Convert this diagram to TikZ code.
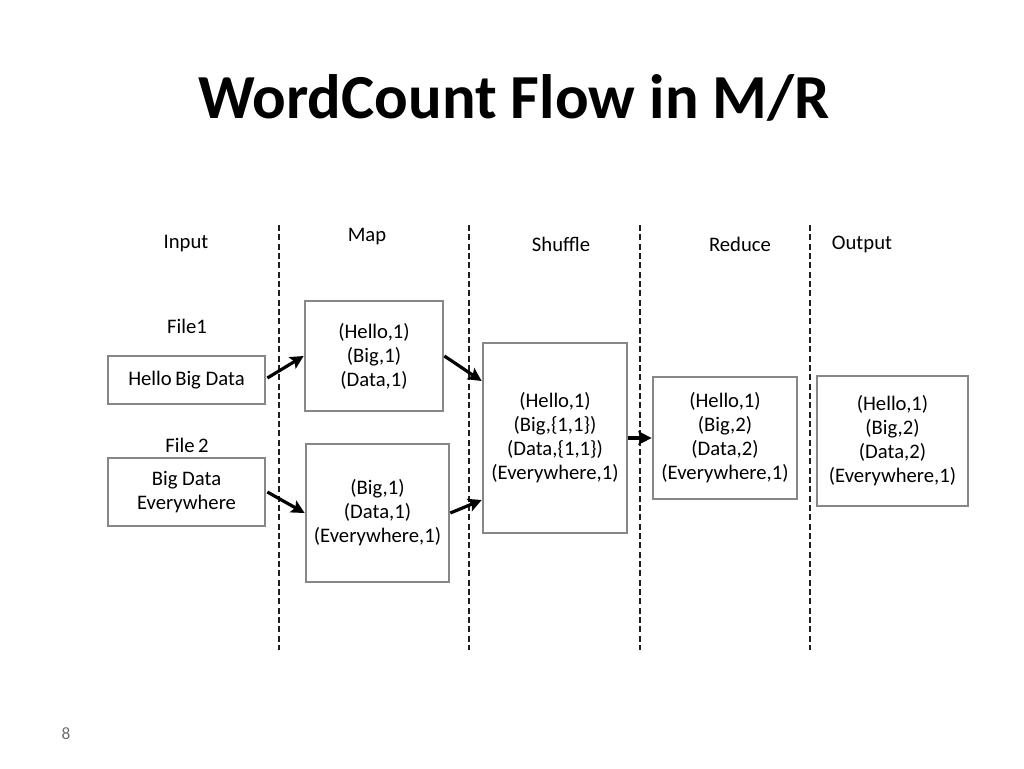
\documentclass[tikz,border=0pt]{standalone}
\usepackage{fontspec}
\setmainfont{Carlito}
\usetikzlibrary{arrows.meta,calc}
\definecolor{boxgray}{RGB}{135,135,135}
\definecolor{dashgray}{RGB}{30,30,30}
\definecolor{numgray}{RGB}{110,110,110}
\tikzset{
  box/.style={draw=boxgray, line width=2pt, fill=white, align=center, font=\fontsize{15.5}{18}\selectfont, inner sep=0pt},
  hdr/.style={font=\fontsize{15.5}{18}\selectfont, inner sep=0pt},
  flowarrow/.style={line width=2.4pt, -{Stealth[length=10pt,width=10pt,inset=2pt]}},
  sep/.style={dashgray, line width=1.2pt, dash pattern=on 4.5pt off 2.5pt}
}
\begin{document}
\begin{tikzpicture}[x=0.75pt,y=-0.75pt]
\useasboundingbox (0,0) rectangle (1024,768);
% title
\node[font=\fontsize{47}{50}\selectfont\bfseries, inner sep=0pt] (title) at (514,98) {WordCount Flow in M/R};
% dashed separators
\coordinate (s1t) at (279,225); \coordinate (s1b) at (279,650);
\coordinate (s2t) at (469,225); \coordinate (s2b) at (469,650);
\coordinate (s3t) at (640,225); \coordinate (s3b) at (640,650);
\coordinate (s4t) at (810,225); \coordinate (s4b) at (810,650);
\draw[sep] (s1t) -- (s1b);
\draw[sep] (s2t) -- (s2b);
\draw[sep] (s3t) -- (s3b);
\draw[sep] (s4t) -- (s4b);
% headers
\node[hdr] (hin) at (186,244) {Input};
\node[hdr] (hmap) at (367,237) {Map};
\node[hdr] (hshuf) at (561,244) {Shuffle};
\node[hdr] (hred) at (740,244) {Reduce};
\node[hdr] (hout) at (862,244) {Output};
\node[hdr] (f1) at (187,326) {File1};
\node[hdr] (f2) at (187,445) {File\,2};
% boxes
\node[box, minimum width=157*0.75pt, minimum height=48*0.75pt] (in1) at (186.5,380) {Hello\,Big Data};
\node[box, minimum width=157*0.75pt, minimum height=68*0.75pt] (in2) at (186.5,492) {Big Data\\Everywhere};
\node[box, minimum width=138*0.75pt, minimum height=110*0.75pt] (map1) at (374,356) {(Hello,1)\\(Big,1)\\(Data,1)};
\node[box, minimum width=143*0.75pt, minimum height=138*0.75pt] (map2) at (377.5,513) {(Big,1)\\(Data,1)\\(Everywhere,1)};
\node[box, minimum width=144*0.75pt, minimum height=190*0.75pt] (shuf) at (555,438) {(Hello,1)\\(Big,\{1,1\})\\(Data,\{1,1\})\\(Everywhere,1)};
\node[box, minimum width=144*0.75pt, minimum height=122*0.75pt] (red) at (725,438) {(Hello,1)\\(Big,2)\\(Data,2)\\(Everywhere,1)};
\node[box, minimum width=151*0.75pt, minimum height=130*0.75pt] (out) at (892.5,441) {(Hello,1)\\(Big,2)\\(Data,2)\\(Everywhere,1)};
% arrows
\draw[flowarrow] ($(in1.east)+(1,-2)$) -- (map1.west);
\draw[flowarrow] ($(in2.east)+(1,0)$) -- (map2.west);
\draw[flowarrow] (map1.east) -- ($(shuf.west)+(0,-57)$);
\draw[flowarrow] (map2.east) -- ($(shuf.west)+(0,62)$);
\draw[flowarrow] (shuf.east) -- (red.west);
% page number
\node[font=\fontsize{13}{14}\selectfont, text=numgray, inner sep=0pt] (pg) at (66,734) {8};
\end{tikzpicture}
\end{document}
